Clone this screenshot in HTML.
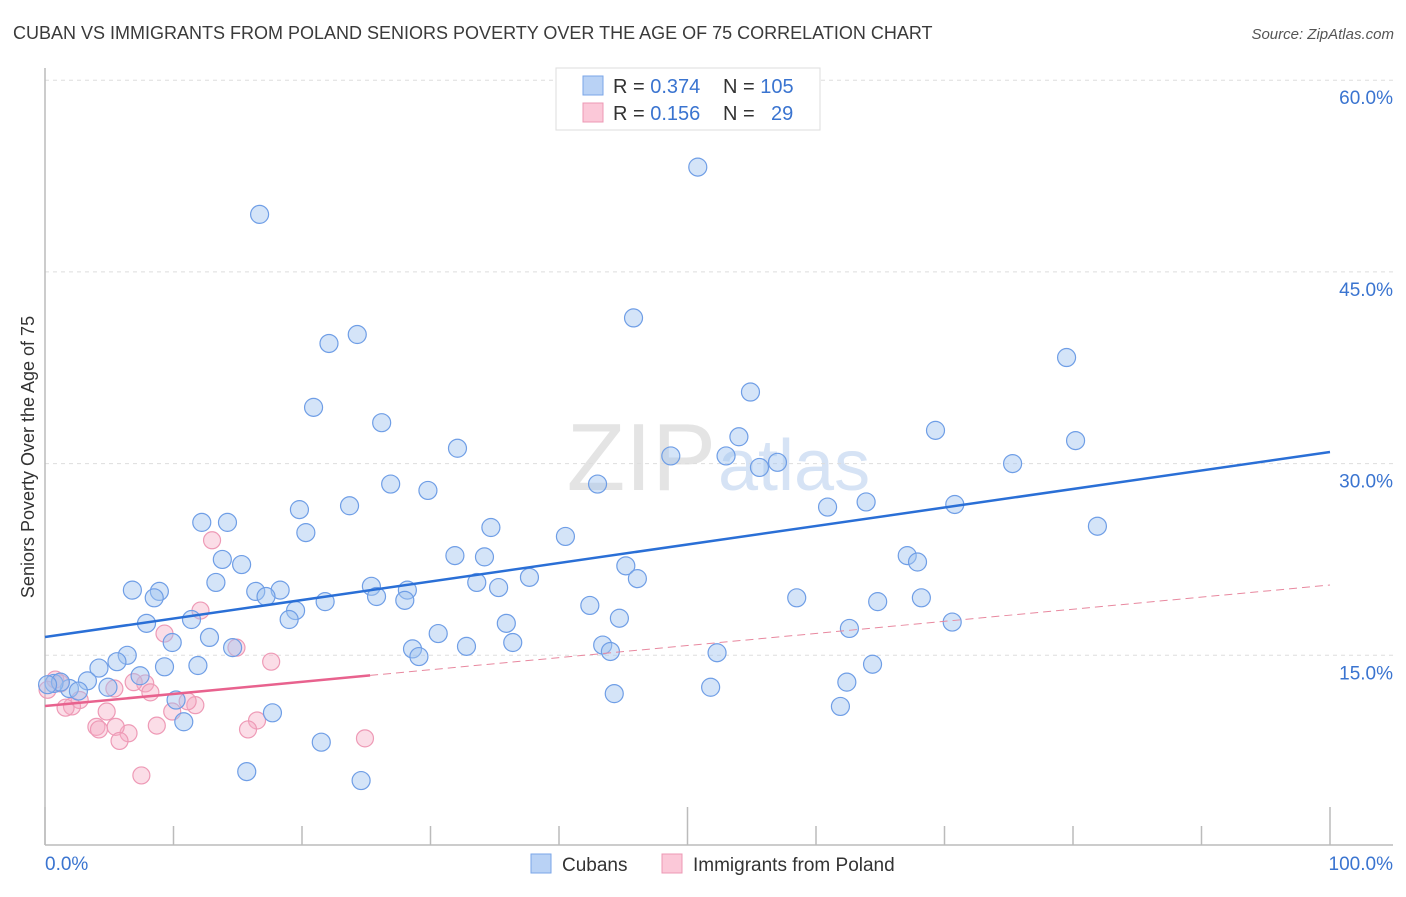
<!DOCTYPE html>
<html><head><meta charset="utf-8"><style>
body{margin:0;background:#fff;font-family:"Liberation Sans",sans-serif;}
svg text{font-family:"Liberation Sans",sans-serif;}
</style></head><body>
<svg id="chart" width="1406" height="892" viewBox="0 0 1406 892" xmlns="http://www.w3.org/2000/svg">
<text x="13" y="39" font-size="18" fill="#3a3a3a">CUBAN VS IMMIGRANTS FROM POLAND SENIORS POVERTY OVER THE AGE OF 75 CORRELATION CHART</text>
<text x="1394" y="39" font-size="15" fill="#555" font-style="italic" text-anchor="end">Source: ZipAtlas.com</text>
<text x="716" y="490" font-size="96" fill="#e4e4e4" text-anchor="end" font-family="Liberation Serif">ZIP</text>
<text x="718" y="490" font-size="72" fill="#d6e3f5">atlas</text>
<g id="grid"></g>
<g id="axes"></g>
<g id="marks"></g>
<text transform="translate(34,457) rotate(-90)" font-size="18" fill="#333" text-anchor="middle">Seniors Poverty Over the Age of 75</text>
<g>
<rect x="556" y="68" width="264" height="62" fill="#fff" stroke="#ddd"/>
<rect x="583" y="76" width="20" height="19" fill="#b9d2f5" stroke="#7aa6e8"/>
<rect x="583" y="103" width="20" height="19" fill="#fbc8d8" stroke="#ec98b4"/>
<text x="613" y="93" font-size="20" fill="#333">R = <tspan fill="#3a74d0">0.374</tspan></text>
<text x="723" y="93" font-size="20" fill="#333">N = <tspan fill="#3a74d0">105</tspan></text>
<text x="613" y="120" font-size="20" fill="#333">R = <tspan fill="#3a74d0"> 0.156</tspan></text>
<text x="723" y="120" font-size="20" fill="#333">N =</text>
<text x="771" y="120" font-size="20" fill="#3a74d0">29</text>
</g>
<g>
<rect x="531" y="854" width="20" height="19" fill="#b9d2f5" stroke="#7aa6e8"/>
<text x="562" y="871" font-size="19" fill="#333">Cubans</text>
<rect x="662" y="854" width="20" height="19" fill="#fbc8d8" stroke="#ec98b4"/>
<text x="693" y="871" font-size="19" fill="#333">Immigrants from Poland</text>
</g>
</svg>
<script>
const yTicks=[15,30,45,60];
const yTickLabels=["15.0%","30.0%","45.0%","60.0%"];
const xTicks=[0,10,20,30,40,50,60,70,80,90,100];
const cubanX=[16.7,50.8,45.8,24.3,22.1,79.5,20.9,54.9,26.2,32.1,54.0,69.3,80.2,48.7,53.0,55.6,57.0,75.3,26.9,29.8,43.0,23.7,19.8,60.9,63.9,70.8,12.2,14.2,20.3,34.7,40.5,81.9,13.8,15.3,31.9,34.2,67.1,67.9,13.3,6.8,8.9,8.5,16.4,18.3,17.2,25.4,28.2,25.8,28.0,33.6,35.3,37.7,45.2,46.1,21.8,19.5,19.0,58.5,64.8,68.2,11.4,7.9,42.4,35.9,44.7,9.9,12.8,30.6,62.6,70.6,36.4,32.8,43.4,44.0,14.6,28.6,29.1,52.3,6.4,5.6,4.2,9.3,11.9,7.4,64.4,3.3,1.9,2.6,4.9,0.7,1.2,0.2,10.2,62.4,51.8,44.3,17.7,61.9,10.8,21.5,15.7,24.6];
const cubanY=[49.5,53.2,41.4,40.1,39.4,38.3,34.4,35.6,33.2,31.2,32.1,32.6,31.8,30.6,30.6,29.7,30.1,30.0,28.4,27.9,28.4,26.7,26.4,26.6,27.0,26.8,25.4,25.4,24.6,25.0,24.3,25.1,22.5,22.1,22.8,22.7,22.8,22.3,20.7,20.1,20.0,19.5,20.0,20.1,19.6,20.4,20.1,19.6,19.3,20.7,20.3,21.1,22.0,21.0,19.2,18.5,17.8,19.5,19.2,19.5,17.8,17.5,18.9,17.5,17.9,16.0,16.4,16.7,17.1,17.6,16.0,15.7,15.8,15.3,15.6,15.5,14.9,15.2,15.0,14.5,14.0,14.1,14.2,13.4,14.3,13.0,12.4,12.2,12.5,12.8,12.9,12.7,11.5,12.9,12.5,12.0,10.5,11.0,9.8,8.2,5.9,5.2];
const polandX=[13.0,12.1,9.3,14.9,17.6,0.8,1.2,0.2,5.4,7.8,6.9,8.2,2.7,2.1,1.6,4.8,11.7,11.1,9.9,8.7,6.5,5.5,4.0,4.2,16.5,15.8,5.8,24.9,7.5];
const polandY=[24.0,18.5,16.7,15.6,14.5,13.1,12.8,12.3,12.4,12.8,12.9,12.1,11.5,11.0,10.9,10.6,11.1,11.4,10.6,9.5,8.9,9.4,9.4,9.2,9.9,9.2,8.3,8.5,5.6];
const cubanTrend=[16.43,30.91];
const polandTrend=[11.03,20.5];
const polandSolidEnd=25.3;

const NS="http://www.w3.org/2000/svg";
const X=v=>45+v*12.85;
const Y=v=>847-v*12.78;
function mk(tag,attrs,parent){const e=document.createElementNS(NS,tag);for(const k in attrs)e.setAttribute(k,attrs[k]);parent.appendChild(e);return e;}
const grid=document.getElementById('grid'),axes=document.getElementById('axes'),marks=document.getElementById('marks');
yTicks.forEach((t,i)=>{
 const l=mk('line',{x1:45,x2:1393,y1:Y(t),y2:Y(t),stroke:'#ddd','stroke-dasharray':'4,4'},grid);
 
 
 const tx=mk('text',{x:1393,y:Y(t)+24,'font-size':19,fill:'#3a74d0','text-anchor':'end'},axes);
 tx.textContent=yTickLabels[i];
 
 
});
const ax=mk('line',{x1:45,x2:45,y1:68,y2:845,stroke:'#bbb','stroke-width':1.5},axes);


const bx=mk('line',{x1:45,x2:1393,y1:845,y2:845,stroke:'#bbb','stroke-width':1.5},axes);


xTicks.forEach(t=>{
 const tk=mk('line',{x1:X(t),x2:X(t),y1:(t%50===0?807:826),y2:845,stroke:'#bbb','stroke-width':1.5},axes);
 
 
});
const xl0=mk('text',{x:45,y:870,'font-size':19,fill:'#3a74d0'},axes);xl0.textContent='0.0%';


const xl1=mk('text',{x:1393,y:870,'font-size':19,fill:'#3a74d0','text-anchor':'end'},axes);xl1.textContent='100.0%';



polandX.forEach((x,i)=>{
 const c=mk('circle',{cx:X(x),cy:Y(polandY[i]),r:8.5,fill:'rgba(246,170,196,0.4)',stroke:'#ee9ab6','stroke-width':1.2},marks);
 
 
});
cubanX.forEach((x,i)=>{
 const c=mk('circle',{cx:X(x),cy:Y(cubanY[i]),r:9,fill:'rgba(160,196,240,0.45)',stroke:'#6f9ee6','stroke-width':1.2},marks);
 
 
});
const ct=mk('line',{x1:X(0),y1:Y(cubanTrend[0]),x2:X(100),y2:Y(cubanTrend[1]),stroke:'#2a6fd6','stroke-width':2.5},marks);


const pAt=x=>polandTrend[0]+(polandTrend[1]-polandTrend[0])*x/100;
const pt=mk('line',{x1:X(0),y1:Y(pAt(0)),x2:X(polandSolidEnd),y2:Y(pAt(polandSolidEnd)),stroke:'#e8628e','stroke-width':2.5},marks);


const pd=mk('line',{x1:X(polandSolidEnd),y1:Y(pAt(polandSolidEnd)),x2:X(100),y2:Y(pAt(100)),stroke:'#e8889f','stroke-width':1,'stroke-dasharray':'8,5'},marks);


</script>
</body></html>
